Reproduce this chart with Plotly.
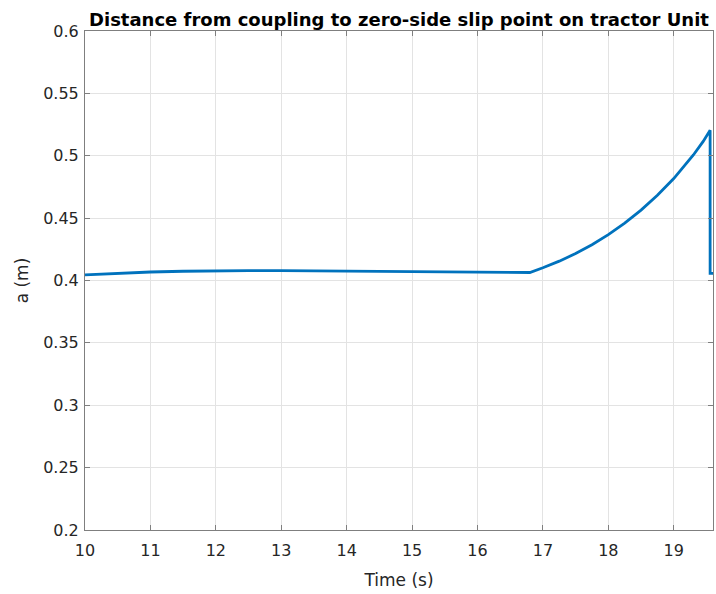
import plotly.graph_objects as go

# Time history of the distance a from the coupling to the zero-side slip point
time_s = [10.0, 10.5, 11.0, 11.5, 12.0, 12.5, 13.0, 13.5, 14.0, 14.5, 15.0,
          15.5, 16.0, 16.5, 16.8, 17.0, 17.25, 17.5, 17.75, 18.0, 18.25,
          18.5, 18.75, 19.0, 19.15, 19.3, 19.45, 19.556, 19.556, 19.6]
a_m = [0.4045, 0.4058, 0.4068, 0.4074, 0.4078, 0.4079, 0.4079, 0.4077,
       0.4074, 0.4071, 0.4069, 0.4067, 0.4066, 0.4065, 0.4064, 0.4102,
       0.4155, 0.4216, 0.4287, 0.4368, 0.4460, 0.4564, 0.4683, 0.4817,
       0.4907, 0.5006, 0.5115, 0.5205, 0.4057, 0.4057]

x_ticks = [10, 11, 12, 13, 14, 15, 16, 17, 18, 19]
y_ticks = [0.2, 0.25, 0.3, 0.35, 0.4, 0.45, 0.5, 0.55, 0.6]
y_tick_text = ["0.2", "0.25", "0.3", "0.35", "0.4", "0.45", "0.5", "0.55", "0.6"]

axis_color = "#7f7f7f"
text_color = "#262626"
grid_color = "#e3e3e3"
font_family = "DejaVu Sans, Arial, sans-serif"

fig = go.Figure()
fig.add_trace(go.Scatter(
    x=time_s, y=a_m, mode="lines",
    line=dict(color="#0072BD", width=2.8),
    showlegend=False,
))

axis_common = dict(
    showline=True, linecolor=axis_color, linewidth=1,
    mirror="ticks", ticks="inside", ticklen=5, tickcolor=axis_color,
    showgrid=True, gridcolor=grid_color, gridwidth=1,
    zeroline=False,
    tickfont=dict(family=font_family, size=16, color=text_color),
)

fig.update_xaxes(
    range=[10, 19.6], tickvals=x_ticks, ticklabelstandoff=6,
    title=dict(text="Time (s)", font=dict(family=font_family, size=17, color=text_color), standoff=14),
    **axis_common,
)
fig.update_yaxes(
    range=[0.2, 0.6], tickvals=y_ticks, ticktext=y_tick_text, ticklabelstandoff=2,
    title=dict(text="a (m)", font=dict(family=font_family, size=17, color=text_color), standoff=10),
    **axis_common,
)

fig.update_layout(
    width=716, height=594,
    margin=dict(l=85, r=3, t=31, b=64),
    paper_bgcolor="white", plot_bgcolor="white",
    title=dict(
        text="<b>Distance from coupling to zero-side slip point on tractor Unit</b>",
        font=dict(family=font_family, size=18, color="black"),
        x=0.5, xanchor="center", xref="paper",
        y=1, yref="paper", yanchor="bottom", pad=dict(b=5),
    ),
)

fig.write_html("out.html")
